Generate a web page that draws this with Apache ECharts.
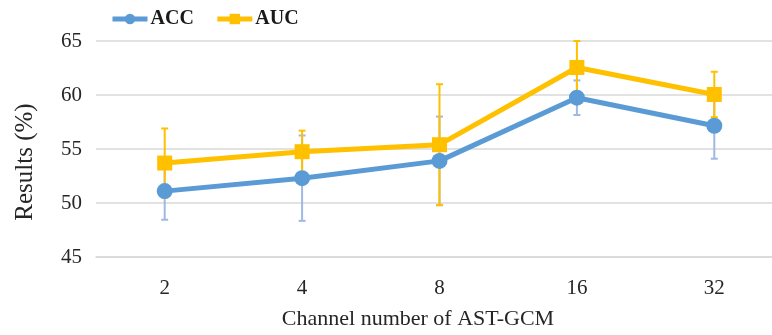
<!DOCTYPE html>
<html>
<head>
<meta charset="utf-8">
<script src="https://cdn.jsdelivr.net/npm/echarts@6/dist/echarts.min.js"></script>
<style>
  html, body { margin: 0; padding: 0; background: #fff; overflow: hidden; }
  /* The last category band runs a little past the right edge of the window */
  #chart { width: 783px; height: 335px; }
</style>
</head>
<body>
<div id="chart"></div>
<script>
// Channel counts on the x axis
const channels = ['2', '4', '8', '16', '32'];
// Mean accuracy and its standard deviation (%)
const accMean = [51.1, 52.3, 53.9, 59.75, 57.15];
const accErr = [2.65, 3.95, 4.1, 1.6, 3.05];
// Mean AUC and its standard deviation (%)
const aucMean = [53.7, 54.75, 55.4, 62.55, 60.05];
const aucErr = [3.2, 1.95, 5.6, 2.45, 2.1];
// Value axis ticks
const yTicks = [45, 50, 55, 60, 65];

const SERIF = '"Liberation Serif", "Times New Roman", serif';
const ACC_COLOR = '#5b9bd5';
const AUC_COLOR = '#ffc000';

// [categoryIndex, low, high] triples for the error-bar series
function errorData(mean, err) {
  return mean.map((m, i) => [i, m - err[i], m + err[i]]);
}

function errorBarRenderer(color) {
  return function (params, api) {
    const x = api.value(0);
    const lo = api.coord([x, api.value(1)]);
    const hi = api.coord([x, api.value(2)]);
    const cap = 3.5;
    const style = { stroke: color, lineWidth: 2, fill: null };
    return {
      type: 'group',
      children: [
        { type: 'line', shape: { x1: hi[0], y1: hi[1], x2: lo[0], y2: lo[1] }, style },
        { type: 'line', shape: { x1: hi[0] - cap, y1: hi[1], x2: hi[0] + cap, y2: hi[1] }, style },
        { type: 'line', shape: { x1: lo[0] - cap, y1: lo[1], x2: lo[0] + cap, y2: lo[1] }, style }
      ]
    };
  };
}

const chart = echarts.init(document.getElementById('chart'), null, { renderer: 'canvas' });

chart.setOption({
  animation: false,
  backgroundColor: '#fff',
  textStyle: { fontFamily: SERIF },
  legend: {
    left: 110,
    top: 9,
    padding: 0,
    itemWidth: 35,
    itemHeight: 13,
    itemGap: 21,
    data: ['ACC', 'AUC'],
    lineStyle: { width: 5 },
    textStyle: { fontFamily: SERIF, fontSize: 20, fontWeight: 'bold', color: '#1a1a1a', padding: [0, 0, 0, -2] }
  },
  grid: { left: 96, right: 0, top: 41, bottom: 78 },
  xAxis: {
    type: 'category',
    data: channels,
    boundaryGap: true,
    axisLine: { show: true, lineStyle: { color: '#d9d9d9', width: 1.5 } },
    axisTick: { show: false },
    axisLabel: { margin: 21, fontSize: 21, color: '#262626', fontFamily: SERIF },
    name: 'Channel number of AST-GCM',
    nameLocation: 'middle',
    nameGap: 51,
    nameTextStyle: { fontSize: 22, color: '#262626', fontFamily: SERIF, padding: [0, 43, 0, 0] }
  },
  yAxis: {
    type: 'value',
    min: yTicks[0],
    max: yTicks[yTicks.length - 1],
    interval: 5,
    axisLine: { show: false },
    axisTick: { show: false },
    splitLine: { lineStyle: { color: '#d9d9d9', width: 1.5 } },
    axisLabel: { margin: 14, fontSize: 21, color: '#262626', fontFamily: SERIF },
    name: 'Results (%)',
    nameLocation: 'middle',
    nameGap: 58,
    nameTextStyle: { fontSize: 25, color: '#262626', fontFamily: SERIF, padding: [0, 26, 0, 0] }
  },
  series: [
    {
      name: 'ACC error',
      type: 'custom',
      renderItem: errorBarRenderer('#9fb8e6'),
      data: errorData(accMean, accErr),
      encode: { x: 0, y: [1, 2] },
      z: 1,
      silent: true
    },
    {
      name: 'AUC error',
      type: 'custom',
      renderItem: errorBarRenderer(AUC_COLOR),
      data: errorData(aucMean, aucErr),
      encode: { x: 0, y: [1, 2] },
      z: 2,
      silent: true
    },
    {
      name: 'ACC',
      type: 'line',
      data: accMean,
      symbol: 'circle',
      symbolSize: 16,
      color: ACC_COLOR,
      lineStyle: { width: 5, color: ACC_COLOR },
      itemStyle: { color: ACC_COLOR },
      z: 3
    },
    {
      name: 'AUC',
      type: 'line',
      data: aucMean,
      symbol: 'rect',
      symbolSize: 15,
      color: AUC_COLOR,
      lineStyle: { width: 5, color: AUC_COLOR },
      itemStyle: { color: AUC_COLOR },
      z: 4
    }
  ]
});
</script>
</body>
</html>
